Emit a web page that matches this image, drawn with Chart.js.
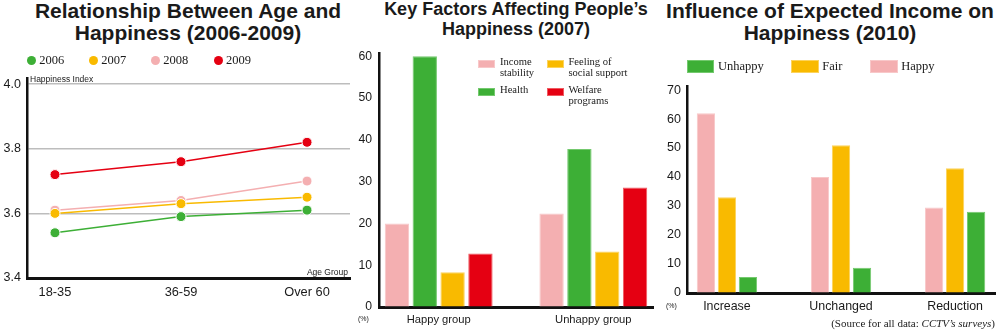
<!DOCTYPE html>
<html>
<head>
<meta charset="utf-8">
<script src="https://cdn.jsdelivr.net/npm/chart.js@4.4.0/dist/chart.umd.min.js"></script>
<style>
    body { margin: 0; background: #fff; }
    #wrap { position: relative; width: 1000px; height: 335px; overflow: hidden; font-family: "Liberation Sans", Arial, sans-serif; color: #1a1a1a; }
    canvas { position: absolute; top: 0; }
    .title { position: absolute; top: 0; text-align: center; font-weight: bold; font-size: 21px; line-height: 22px; white-space: nowrap; }
    .abs { position: absolute; white-space: nowrap; }
    .serif { font-family: "Liberation Serif", "Times New Roman", serif; }
</style>
</head>
<body>
<div id="wrap">
    <div class="title" style="left:0; width:376px;">Relationship Between Age and<br>Happiness (2006-2009)</div>
    <div class="title" style="left:366px; width:300px; font-size:18px; line-height:20px; top:-1px;">Key Factors Affecting People’s<br>Happiness (2007)</div>
    <div class="title" style="left:660px; width:340px;">Influence of Expected Income on<br>Happiness (2010)</div>

    <canvas id="ageChart" width="360" height="335" style="left:0;"></canvas>
    <canvas id="factorChart" width="305" height="335" style="left:355px;"></canvas>
    <canvas id="incomeChart" width="340" height="335" style="left:660px;"></canvas>

    <div class="abs" style="left:30px; top:74px; font-size:8.5px; line-height:10px;">Happiness Index</div>
    <div class="abs" style="right:652px; top:266.5px; font-size:8.5px; line-height:10px;">Age Group</div>
    <div class="abs" style="left:358px; top:314px; font-size:7px; line-height:10px;">(%)</div>
    <div class="abs" style="left:666px; top:301px; font-size:7px; line-height:10px;">(%)</div>
    <div class="abs serif" style="right:5px; top:316px; font-size:11px; line-height:14px;">(Source for all data: <i>CCTV’s surveys</i>)</div>
    <div id="legends"></div>
</div>
<script>
// Relationship between age and happiness (2006-2009)
var ageGroups = ["18-35", "36-59", "Over 60"];
var years = ["2006", "2007", "2008", "2009"];
var happiness2006 = [3.54, 3.59, 3.61];
var happiness2007 = [3.60, 3.63, 3.65];
var happiness2008 = [3.61, 3.64, 3.70];
var happiness2009 = [3.72, 3.76, 3.82];
var happinessTicks = [3.4, 3.6, 3.8, 4.0];

// Key factors affecting people's happiness (2007), in %
var groups = ["Happy group", "Unhappy group"];
var factorNames = ["Income\nstability", "Health", "Feeling of\nsocial support", "Welfare\nprograms"];
var incomeStability = [20, 22.4];
var health = [60, 37.8];
var socialSupport = [8.3, 13.3];
var welfarePrograms = [12.8, 28.6];
var factorTicks = [0, 10, 20, 30, 40, 50, 60];

// Influence of expected income on happiness (2010), in %
var expectations = ["Increase", "Unchanged", "Reduction"];
var moods = ["Happy", "Fair", "Unhappy"];
var happy2010 = [62, 40, 29.5];
var fair2010 = [33, 51, 43];
var unhappy2010 = [5.5, 8.7, 28];
var incomeTicks = [0, 10, 20, 30, 40, 50, 60, 70];

var GREEN = "#3daf36", YELLOW = "#f9ba00", PINK = "#f4afb1", RED = "#e50012";
var GREEN_EDGE = "#74c96e", YELLOW_EDGE = "#fcd35c", PINK_EDGE = "#f8c8c9", RED_EDGE = "#ef5a60";

Chart.defaults.font.family = "'Liberation Sans', Arial, sans-serif";
Chart.defaults.color = "#1a1a1a";
Chart.defaults.animation = false;

function points(values) {
    return values.map(function (v, i) { return { x: i, y: v }; });
}
function fixTicks(list) {
    return function (scale) { scale.ticks = list.map(function (v) { return { value: v }; }); };
}

// ---- left: line chart ----
var lineColors = [GREEN, YELLOW, PINK, RED];
var lineSeries = [happiness2006, happiness2007, happiness2008, happiness2009];

new Chart(document.getElementById("ageChart"), {
    type: "line",
    data: {
        datasets: lineSeries.map(function (s, i) {
            return {
                label: years[i],
                data: points(s),
                borderColor: lineColors[i],
                backgroundColor: lineColors[i],
                borderWidth: 1.5,
                pointRadius: 5,
                pointBorderColor: "#fff",
                pointBorderWidth: 1,
            };
        }),
    },
    options: {
        responsive: false,
        devicePixelRatio: 1,
        layout: { padding: { left: 0, top: 78, right: 10, bottom: 27 } },
        plugins: { legend: { display: false }, tooltip: { enabled: false } },
        scales: {
            x: {
                type: "linear",
                min: -0.222,
                max: 2.341,
                afterBuildTicks: fixTicks([0, 1, 2]),
                afterFit: function (scale) { scale.height = 30; },
                grid: { drawOnChartArea: false, drawTicks: false },
                border: { color: "#111", width: 3 },
                ticks: {
                    padding: 7,
                    font: { size: 12.8 },
                    callback: function (v) { return ageGroups[v]; },
                },
            },
            y: {
                min: 3.4,
                max: 4.019,
                afterBuildTicks: fixTicks(happinessTicks),
                afterFit: function (scale) { scale.width = 27; },
                grid: { color: "#bdbdbd", lineWidth: 1.5, drawTicks: false },
                border: { color: "#111", width: 2.5 },
                ticks: {
                    padding: 6,
                    font: { size: 12.5 },
                    callback: function (v) { return v.toFixed(1); },
                },
            },
        },
    },
});

// ---- middle: grouped bars ----
var factorSeries = [incomeStability, health, socialSupport, welfarePrograms];
var factorColors = [PINK, GREEN, YELLOW, RED];
var factorEdges = [PINK_EDGE, GREEN_EDGE, YELLOW_EDGE, RED_EDGE];

new Chart(document.getElementById("factorChart"), {
    type: "bar",
    data: {
        datasets: factorSeries.map(function (s, i) {
            return {
                label: factorNames[i],
                data: points(s),
                backgroundColor: factorColors[i],
                borderColor: factorEdges[i],
                borderWidth: 1,
                categoryPercentage: 0.72,
                barPercentage: 0.875,
            };
        }),
    },
    options: {
        responsive: false,
        devicePixelRatio: 1,
        layout: { padding: { left: 0, top: 53, right: 7, bottom: 8 } },
        plugins: { legend: { display: false }, tooltip: { enabled: false } },
        scales: {
            x: {
                type: "linear",
                offset: false,
                min: -0.386,
                max: 1.386,
                afterBuildTicks: fixTicks([0, 1]),
                afterFit: function (scale) { scale.height = 20; },
                grid: { drawOnChartArea: false, drawTicks: false },
                border: { color: "#111", width: 3 },
                ticks: {
                    padding: 6,
                    font: { size: 11.2 },
                    callback: function (v) { return groups[v]; },
                },
            },
            y: {
                min: 0,
                max: 60.8,
                afterBuildTicks: fixTicks(factorTicks),
                afterFit: function (scale) { scale.width = 24; },
                grid: { drawOnChartArea: false, drawTicks: false },
                border: { color: "#111", width: 2.5 },
                ticks: { padding: 7, font: { size: 12.2 } },
            },
        },
    },
});

// ---- right: grouped bars ----
var incomeSeries = [happy2010, fair2010, unhappy2010];
var incomeColors = [PINK, YELLOW, GREEN];
var incomeEdges = [PINK_EDGE, YELLOW_EDGE, GREEN_EDGE];

new Chart(document.getElementById("incomeChart"), {
    type: "bar",
    data: {
        datasets: incomeSeries.map(function (s, i) {
            return {
                label: moods[i],
                data: points(s),
                backgroundColor: incomeColors[i],
                borderColor: incomeEdges[i],
                borderWidth: 1,
                categoryPercentage: 0.553,
                barPercentage: 0.87,
            };
        }),
    },
    options: {
        responsive: false,
        devicePixelRatio: 1,
        layout: { padding: { left: 0, top: 86, right: 5, bottom: 22 } },
        plugins: { legend: { display: false }, tooltip: { enabled: false } },
        scales: {
            x: {
                type: "linear",
                offset: false,
                min: -0.35,
                max: 2.35,
                afterBuildTicks: fixTicks([0, 1, 2]),
                afterFit: function (scale) { scale.height = 20; },
                grid: { drawOnChartArea: false, drawTicks: false },
                border: { color: "#111", width: 3 },
                ticks: {
                    padding: 6,
                    font: { size: 12.4 },
                    callback: function (v) { return expectations[v]; },
                },
            },
            y: {
                min: 0,
                max: 71.4,
                afterBuildTicks: fixTicks(incomeTicks),
                afterFit: function (scale) { scale.width = 27; },
                grid: { drawOnChartArea: false, drawTicks: false },
                border: { color: "#111", width: 2.5 },
                ticks: { padding: 6, font: { size: 12.5 } },
            },
        },
    },
});

// ---- legends (html) ----
var legendHtml = "";
var dotX = [31.7, 93.7, 155.7, 218.3];
years.forEach(function (y, i) {
    legendHtml += '<div class="abs" style="left:' + (dotX[i] - 4.5) + 'px; top:55.5px; width:9px; height:9px; border-radius:50%; background:' + lineColors[i] + ';"></div>';
    legendHtml += '<div class="abs serif" style="left:' + (dotX[i] + 7.6) + 'px; top:53.4px; font-size:12.5px; line-height:14px;">' + y + '</div>';
});

// middle legend is laid out in two columns: income/health, then support/welfare
var factorSpots = [[478.3, 60], [478.3, 87.7], [546.7, 60], [546.7, 87.7]];
factorNames.forEach(function (n, i) {
    var p = factorSpots[i];
    legendHtml += '<div class="abs" style="left:' + p[0] + 'px; top:' + p[1] + 'px; width:15px; height:6px; background:' + factorColors[i] + '; border:1px solid ' + factorEdges[i] + ';"></div>';
    legendHtml += '<div class="abs serif" style="left:' + (p[0] + 21.7) + 'px; top:' + (p[1] - 2.6) + 'px; font-size:10.6px; line-height:10.6px; white-space:pre;">' + n + '</div>';
});

// right legend runs in reverse order: unhappy, fair, happy
var moodSpots = [870, 791, 686.7];
moods.forEach(function (m, i) {
    legendHtml += '<div class="abs" style="left:' + moodSpots[i] + 'px; top:60px; width:25.5px; height:11px; background:' + incomeColors[i] + '; border:1px solid ' + incomeEdges[i] + ';"></div>';
    legendHtml += '<div class="abs serif" style="left:' + (moodSpots[i] + 31.3) + 'px; top:58.5px; font-size:12.5px; line-height:14px;">' + m + '</div>';
});
document.getElementById("legends").innerHTML = legendHtml;
</script>
</body>
</html>
